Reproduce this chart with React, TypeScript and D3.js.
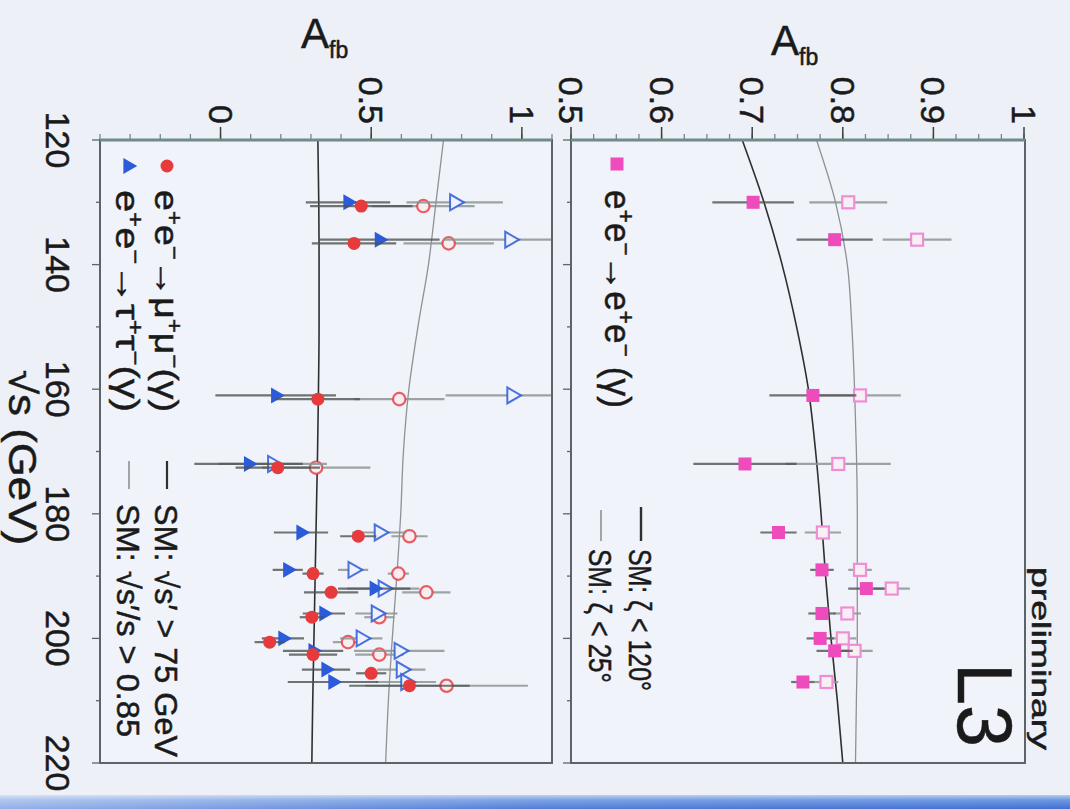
import React from "react";
import * as d3 from "d3";

const W = 1070;
const H = 809;

// √s tick values (GeV)
const sqrtsTicks = [120, 140, 160, 180, 200, 220];

// e+e- -> e+e-(γ): forward-backward asymmetry
const eeEnergy = [130, 136, 161, 172, 183, 189, 192, 196, 200, 202, 207];
const eeAfbWide = [0.701, 0.791, 0.767, 0.692, 0.729, 0.777, 0.826, 0.777, 0.775, 0.791, 0.756];
const eeErrWide = [0.045, 0.042, 0.048, 0.057, 0.02, 0.013, 0.02, 0.015, 0.015, 0.02, 0.013];
const eeAfbNarrow = [0.806, 0.882, 0.819, 0.795, 0.778, 0.819, 0.854, 0.805, 0.8, 0.813, 0.782];
const eeErrNarrow = [0.043, 0.038, 0.045, 0.058, 0.02, 0.013, 0.02, 0.015, 0.015, 0.02, 0.013];

// e+e- -> μ+μ-(γ)
const muEnergy = [130.6, 136.6, 161.6, 172.6, 183.6, 189.6, 192.6, 196.6, 200.6, 202.6, 205.6, 207.6];
const muAfbHigh = [0.467, 0.443, 0.323, 0.19, 0.457, 0.307, 0.367, 0.303, 0.163, 0.307, 0.5, 0.627];
const muErrHigh = [0.17, 0.14, 0.14, 0.14, 0.06, 0.035, 0.09, 0.04, 0.05, 0.08, 0.05, 0.2];
const muAfbRatio = [0.673, 0.757, 0.593, 0.317, 0.627, 0.59, 0.683, 0.527, 0.423, 0.527, null, 0.75];
const muErrRatio = [0.17, 0.15, 0.15, 0.18, 0.06, 0.035, 0.08, 0.05, 0.05, 0.08, 0, 0.27];

// e+e- -> τ+τ-(γ)
const tauEnergy = [130, 136, 161, 172, 183, 189, 192, 196, 200, 202, 205, 207];
const tauAfbHigh = [0.423, 0.527, 0.183, 0.093, 0.267, 0.223, 0.51, 0.343, 0.207, 0.307, 0.35, 0.373];
const tauErrHigh = [0.14, 0.2, 0.2, 0.18, 0.09, 0.05, 0.12, 0.07, 0.07, 0.1, 0.08, 0.15];
const tauAfbRatio = [0.777, 0.96, 0.967, 0.173, 0.527, 0.44, 0.54, 0.517, 0.467, 0.593, 0.6, 0.615];
const tauErrRatio = [0.16, 0.22, 0.22, 0.18, 0.09, 0.05, 0.12, 0.07, 0.07, 0.15, 0.08, 0.1];

// Standard Model predictions
const smEnergy = [120, 130, 140, 150, 160, 170, 180, 190, 200, 210, 220];
const eeSmWide = [0.689, 0.713, 0.733, 0.749, 0.762, 0.77, 0.776, 0.781, 0.787, 0.794, 0.8];
const eeSmNarrow = [0.771, 0.792, 0.805, 0.81, 0.813, 0.815, 0.816, 0.816, 0.816, 0.815, 0.814];
const llSmHigh = [0.323, 0.326, 0.327, 0.327, 0.325, 0.322, 0.318, 0.314, 0.31, 0.306, 0.303];
const llSmRatio = [0.74, 0.715, 0.69, 0.655, 0.625, 0.607, 0.598, 0.585, 0.57, 0.557, 0.548];

const FONT = "'Liberation Sans', Arial, Helvetica, sans-serif";
const RED = "#e63a3c";
const BLUE = "#2b5bd9";
const MAGENTA = "#ee4cbc";
const FRAME = "#5b6569";
const TOPAXIS = "#6f8b8a";

// vertical axis: √s (runs downward)
const sY = d3.scaleLinear().domain([120, 220]).range([140, 763]);
// lower panel (μμ, ττ): A_fb horizontal
const lowX = d3.scaleLinear().domain([-0.4, 1.1]).range([100, 552]);
// upper panel (ee): A_fb horizontal
const upX = d3.scaleLinear().domain([0.5, 1.0]).range([571, 1024]);

type VProps = {
  x: number;
  y: number;
  size: number;
  anchor?: string;
  length?: number;
  weight?: string | number;
  children: React.ReactNode;
};

// Text running top-to-bottom (rotated 90° clockwise); x is the baseline.
function VText({ x, y, size, anchor = "start", length, weight = "normal", children }: VProps) {
  return (
    <text
      transform={`translate(${x},${y}) rotate(90)`}
      fontSize={size}
      fontFamily={FONT}
      textAnchor={anchor}
      fontWeight={weight}
      fill="#1a1a1a"
      stroke="#1a1a1a"
      strokeWidth={0.5}
      textLength={length}
      lengthAdjust={length ? "spacingAndGlyphs" : undefined}
    >
      {children}
    </text>
  );
}

const tri = d3.symbol().type(d3.symbolTriangle).size(110)() as string;

function Marker({
  kind,
  open,
  cx,
  cy,
}: {
  kind: "circle" | "triangle" | "square";
  open: boolean;
  cx: number;
  cy: number;
}) {
  if (kind === "circle") {
    return open ? (
      <circle cx={cx} cy={cy} r={6.2} fill="#f7eef3" stroke={RED} strokeOpacity={0.8} strokeWidth={2.2} />
    ) : (
      <circle cx={cx} cy={cy} r={6.5} fill={RED} />
    );
  }
  if (kind === "triangle") {
    return (
      <path
        d={tri}
        transform={`translate(${cx},${cy}) rotate(90)`}
        fill={open ? "#eef2fb" : BLUE}
        stroke={open ? BLUE : "none"}
        strokeOpacity={0.85}
        strokeWidth={open ? 2 : 0}
      />
    );
  }
  return open ? (
    <rect x={cx - 6} y={cy - 6} width={12} height={12} fill="#f9eef6" stroke="#f08ed4" strokeWidth={2.2} />
  ) : (
    <rect x={cx - 6.5} y={cy - 6.5} width={13} height={13} fill={MAGENTA} />
  );
}

function Series({
  energy,
  values,
  errors,
  xs,
  kind,
  open,
}: {
  energy: number[];
  values: (number | null)[];
  errors: number[];
  xs: d3.ScaleLinear<number, number>;
  kind: "circle" | "triangle" | "square";
  open: boolean;
}) {
  return (
    <g>
      {values.map((v, i) =>
        v === null ? null : (
          <line
            key={"e" + i}
            x1={xs(v - errors[i])}
            x2={xs(v + errors[i])}
            y1={sY(energy[i])}
            y2={sY(energy[i])}
            stroke={open ? "#8d9494" : "#4d5252"}
            strokeOpacity={open ? 0.85 : 0.8}
            strokeWidth={2.2}
          />
        )
      )}
      {values.map((v, i) =>
        v === null ? null : (
          <Marker key={"m" + i} kind={kind} open={open} cx={xs(v)} cy={sY(energy[i])} />
        )
      )}
    </g>
  );
}

function SmCurve({
  values,
  xs,
  dark,
}: {
  values: number[];
  xs: d3.ScaleLinear<number, number>;
  dark: boolean;
}) {
  const pts = smEnergy.map((e, i) => [xs(values[i]), sY(e)] as [number, number]);
  const path = d3
    .line<[number, number]>()
    .x((d) => d[0])
    .y((d) => d[1])
    .curve(d3.curveMonotoneY)(pts) as string;
  return (
    <path
      d={path}
      fill="none"
      stroke={dark ? "#2e3030" : "#8e9292"}
      strokeWidth={dark ? 1.6 : 1.3}
    />
  );
}

function TopAxis({
  xs,
  major,
  minorStep,
  labels,
}: {
  xs: d3.ScaleLinear<number, number>;
  major: number[];
  minorStep: number;
  labels: string[];
}) {
  const [d0, d1] = xs.domain();
  const minor = d3
    .range(Math.ceil(d0 / minorStep - 1e-6), Math.floor(d1 / minorStep + 1e-6) + 1)
    .map((k) => k * minorStep);
  return (
    <g>
      {minor.map((m, i) => (
        <line key={"mi" + i} x1={xs(m)} x2={xs(m)} y1={140} y2={134} stroke={TOPAXIS} strokeWidth={1.3} />
      ))}
      {major.map((m, i) => (
        <line key={"ma" + i} x1={xs(m)} x2={xs(m)} y1={140} y2={127} stroke="#3a4040" strokeWidth={1.5} />
      ))}
      {major.map((m, i) => (
        <VText key={"l" + i} x={xs(m) - 12} y={124} size={34} anchor="end">
          {labels[i]}
        </VText>
      ))}
    </g>
  );
}

export default function App() {
  return (
    <svg
      width={W}
      height={H}
      viewBox={`0 0 ${W} ${H}`}
      style={{ position: "fixed", left: 0, top: 0, display: "block" }}
    >
      <defs>
        <linearGradient id="band" x1="0" y1="0" x2="0" y2="1">
          <stop offset="0" stopColor="#b7ccef" />
          <stop offset="0.35" stopColor="#6f98e2" />
          <stop offset="1" stopColor="#3f6fd2" />
        </linearGradient>
        <linearGradient id="bandH" x1="0" y1="0" x2="1" y2="0">
          <stop offset="0" stopColor="#ffffff" stopOpacity={0.45} />
          <stop offset="0.5" stopColor="#ffffff" stopOpacity={0.1} />
          <stop offset="1" stopColor="#ffffff" stopOpacity={0} />
        </linearGradient>
        <clipPath id="clipLow">
          <rect x={100} y={140} width={452} height={623} />
        </clipPath>
        <clipPath id="clipUp">
          <rect x={571} y={140} width={454} height={623} />
        </clipPath>
      </defs>

      {/* page */}
      <rect x={0} y={0} width={W} height={H} fill="#edf0f7" />
      <rect x={100} y={140} width={452} height={623} fill="#f0f3f9" />
      <rect x={571} y={140} width={454} height={623} fill="#f0f3f9" />
      <rect x={0} y={795} width={W} height={14} fill="url(#band)" />
      <rect x={0} y={795} width={W} height={14} fill="url(#bandH)" />

      {/* √s ticks on both panels' left edges */}
      {d3.range(120, 221, 10).map((s) => {
        const len = s % 20 === 0 ? 8 : 4;
        return (
          <g key={"st" + s}>
            <line x1={100 - len} x2={100} y1={sY(s)} y2={sY(s)} stroke={FRAME} strokeWidth={1.3} />
            <line x1={571 - len} x2={571} y1={sY(s)} y2={sY(s)} stroke={FRAME} strokeWidth={1.3} />
          </g>
        );
      })}
      {sqrtsTicks.map((s) => (
        <VText key={"sl" + s} x={46} y={sY(s)} size={34} anchor="middle">
          {String(s)}
        </VText>
      ))}
      <VText x={9} y={370} size={38} length={175}>
        √s (GeV)
      </VText>

      {/* A_fb axes */}
      <TopAxis xs={lowX} major={[0, 0.5, 1]} minorStep={0.1} labels={["0", "0.5", "1"]} />
      <TopAxis
        xs={upX}
        major={[0.5, 0.6, 0.7, 0.8, 0.9, 1]}
        minorStep={0.025}
        labels={["0.5", "0.6", "0.7", "0.8", "0.9", "1"]}
      />
      <text x={301} y={48} fontFamily={FONT} fontSize={42} fill="#1a1a1a" stroke="#1a1a1a" strokeWidth={0.5}>
        A<tspan fontSize={23} dy={10}>fb</tspan>
      </text>
      <text x={771} y={55} fontFamily={FONT} fontSize={42} fill="#1a1a1a" stroke="#1a1a1a" strokeWidth={0.5}>
        A<tspan fontSize={23} dy={10}>fb</tspan>
      </text>

      {/* lower panel: μμ and ττ */}
      <g clipPath="url(#clipLow)">
        <SmCurve values={llSmHigh} xs={lowX} dark={true} />
        <SmCurve values={llSmRatio} xs={lowX} dark={false} />
        <Series energy={muEnergy} values={muAfbRatio} errors={muErrRatio} xs={lowX} kind="circle" open={true} />
        <Series energy={tauEnergy} values={tauAfbRatio} errors={tauErrRatio} xs={lowX} kind="triangle" open={true} />
        <Series energy={tauEnergy} values={tauAfbHigh} errors={tauErrHigh} xs={lowX} kind="triangle" open={false} />
        <Series energy={muEnergy} values={muAfbHigh} errors={muErrHigh} xs={lowX} kind="circle" open={false} />
      </g>

      {/* upper panel: ee */}
      <g clipPath="url(#clipUp)">
        <SmCurve values={eeSmWide} xs={upX} dark={true} />
        <SmCurve values={eeSmNarrow} xs={upX} dark={false} />
        <Series energy={eeEnergy} values={eeAfbNarrow} errors={eeErrNarrow} xs={upX} kind="square" open={true} />
        <Series energy={eeEnergy} values={eeAfbWide} errors={eeErrWide} xs={upX} kind="square" open={false} />
      </g>

      {/* frames */}
      <rect x={100} y={140} width={452} height={623} fill="none" stroke={FRAME} strokeWidth={2} />
      <rect x={571} y={140} width={454} height={623} fill="none" stroke={FRAME} strokeWidth={2} />
      <line x1={100} x2={552} y1={140} y2={140} stroke={TOPAXIS} strokeWidth={3} />
      <line x1={571} x2={1025} y1={140} y2={140} stroke={TOPAXIS} strokeWidth={3} />

      {/* lower legend */}
      <Marker kind="circle" open={false} cx={167} cy={166} />
      <Marker kind="triangle" open={false} cx={128} cy={166} />
      <VText x={155} y={190} size={34} length={222}>
        e<tspan fontSize={22} dy={-12}>+</tspan>
        <tspan dy={12}>e</tspan>
        <tspan fontSize={22} dy={-12}>−</tspan>
        <tspan dy={12}>→μ</tspan>
        <tspan fontSize={22} dy={-12}>+</tspan>
        <tspan dy={12}>μ</tspan>
        <tspan fontSize={22} dy={-12}>−</tspan>
        <tspan dy={12}>(γ)</tspan>
      </VText>
      <VText x={116} y={190} size={34} length={222}>
        e<tspan fontSize={22} dy={-12}>+</tspan>
        <tspan dy={12}>e</tspan>
        <tspan fontSize={22} dy={-12}>−</tspan>
        <tspan dy={12}>→τ</tspan>
        <tspan fontSize={22} dy={-12}>+</tspan>
        <tspan dy={12}>τ</tspan>
        <tspan fontSize={22} dy={-12}>−</tspan>
        <tspan dy={12}>(γ)</tspan>
      </VText>
      <line x1={167} x2={167} y1={461} y2={489} stroke="#2e3030" strokeWidth={2.2} />
      <line x1={129} x2={129} y1={461} y2={489} stroke="#8e9292" strokeWidth={1.6} />
      <VText x={155} y={504} size={32} length={253}>
        SM: √s′ &gt; 75 GeV
      </VText>
      <VText x={117} y={504} size={32} length={233}>
        SM: √s′/s &gt; 0.85
      </VText>

      {/* upper legend */}
      <Marker kind="square" open={false} cx={617} cy={164} />
      <VText x={605} y={190} size={36} length={218}>
        e<tspan fontSize={23} dy={-13}>+</tspan>
        <tspan dy={13}>e</tspan>
        <tspan fontSize={23} dy={-13}>−</tspan>
        <tspan dy={13}>→e</tspan>
        <tspan fontSize={23} dy={-13}>+</tspan>
        <tspan dy={13}>e</tspan>
        <tspan fontSize={23} dy={-13}>−</tspan>
        <tspan dy={13}> (γ)</tspan>
      </VText>
      <line x1={641} x2={641} y1={507} y2={541} stroke="#2e3030" strokeWidth={2.4} />
      <line x1={601} x2={601} y1={510} y2={541} stroke="#8e9292" strokeWidth={1.6} />
      <VText x={629} y={549} size={32} length={142}>
        SM: ζ &lt; 120°
      </VText>
      <VText x={589} y={549} size={32} length={134}>
        SM: ζ &lt; 25°
      </VText>

      {/* experiment tag */}
      <VText x={958} y={663} size={78} length={84}>
        L3
      </VText>
      <VText x={1032} y={567} size={26} length={183}>
        preliminary
      </VText>
    </svg>
  );
}
